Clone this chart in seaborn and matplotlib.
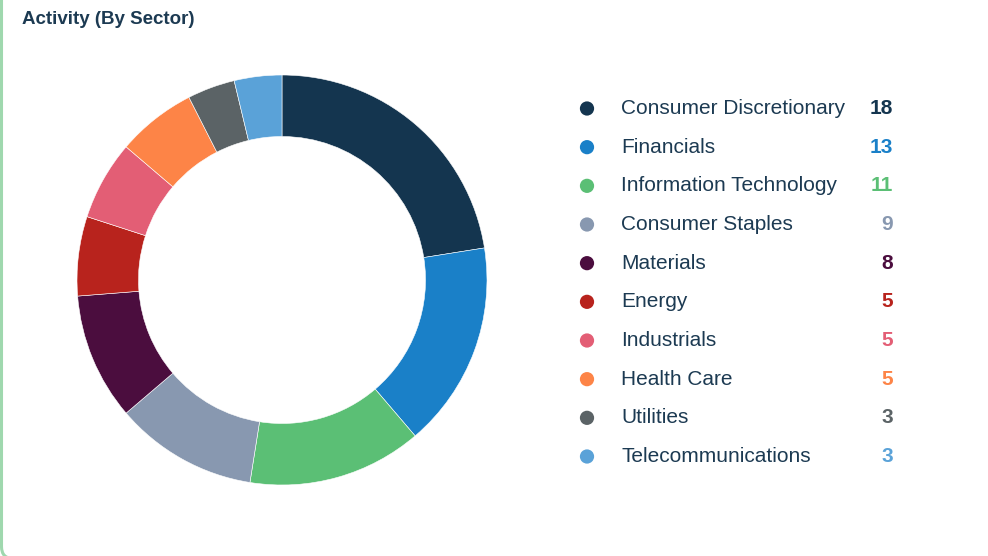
import numpy as np
import pandas as pd
import matplotlib.pyplot as plt
import seaborn as sns
from matplotlib.patches import FancyBboxPatch

sectors = ["Consumer Discretionary", "Financials", "Information Technology",
           "Consumer Staples", "Materials", "Energy", "Industrials",
           "Health Care", "Utilities", "Telecommunications"]
counts = [18, 13, 11, 9, 8, 5, 5, 5, 3, 3]
colors = ["#14354f", "#1a80c8", "#5bbf75", "#8898b0", "#4b0d3e",
          "#b8231d", "#e35e75", "#fd8447", "#5b6366", "#5aa2d8"]

sns.set_theme(style="white")
plt.rcParams["font.family"] = ["Liberation Sans", "DejaVu Sans"]

W, H = 988, 556
fig = plt.figure(figsize=(W / 100, H / 100), dpi=100)
fig.patch.set_facecolor("white")

# card border (only left edge and bottom corner visible)
card = FancyBboxPatch((1.5 / W, -2.5 / H), 1.2, (H + 30) / H,
                      boxstyle="round,pad=0,rounding_size=0.012",
                      transform=fig.transFigure, facecolor="none",
                      edgecolor="#9fd8ae", linewidth=2.2, mutation_aspect=W / H)
fig.patches.append(card)

fig.text(22 / W, 1 - 19 / H, "Activity (By Sector)", fontsize=13.5, fontweight="bold",
         color="#1c3a52", ha="left", va="center")

# donut
cx, cy, r = 282, 280, 205
ax = fig.add_axes([(cx - r) / W, (H - cy - r) / H, 2 * r / W, 2 * r / H])
ax.pie(counts, colors=colors, startangle=90, counterclock=False,
       wedgeprops=dict(width=0.30, edgecolor="white", linewidth=0.4))
ax.set_xlim(-1, 1)
ax.set_ylim(-1, 1)
ax.set_aspect("equal")

# legend
df = pd.DataFrame({"sector": sectors, "count": counts, "row": np.arange(len(sectors))})
top, step = 108.5, (456.5 - 108.5) / 9
y0 = top - step / 2
y1 = y0 + step * len(sectors)
lax = fig.add_axes([570 / W, (H - y1) / H, 330 / W, (y1 - y0) / H])
lax.set_xlim(570, 900)
lax.set_ylim(len(sectors) - 0.5, -0.5)
lax.axis("off")
df["x"] = 587
sns.scatterplot(data=df, x="x", y="row", hue="sector", palette=colors,
                s=105, linewidth=0, legend=False, ax=lax)
for _, rw in df.iterrows():
    c = colors[rw["row"]]
    lax.text(621, rw["row"], rw["sector"], fontsize=15, color="#1c3a52",
             ha="left", va="center")
    lax.text(893, rw["row"], str(rw["count"]), fontsize=15, fontweight="bold",
             color=c, ha="right", va="center")

fig.savefig("out.png", dpi=100, facecolor="white")
